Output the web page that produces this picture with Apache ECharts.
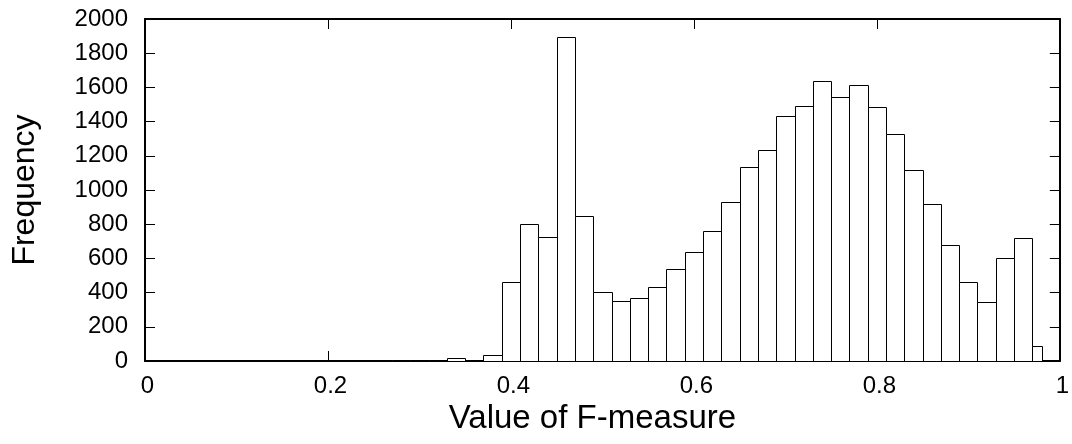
<!DOCTYPE html>
<html>
<head>
<meta charset="utf-8">
<script src="https://cdn.jsdelivr.net/npm/echarts@6/dist/echarts.min.js"></script>
<style>
html,body{margin:0;padding:0;background:#fff;}
#chart{width:1072px;height:444px;}
</style>
</head>
<body>
<div id="chart"></div>
<script>
// Histogram bins: centre and width (F-measure units)
const binCenters = [0.20,0.22,0.24,0.26,0.28,0.30,0.32,0.34,0.36,0.38,
                    0.40,0.42,0.44,0.46,0.48,0.50,0.52,0.54,0.56,0.58,
                    0.60,0.62,0.64,0.66,0.68,0.70,0.72,0.74,0.76,0.78,
                    0.80,0.82,0.84,0.86,0.88,0.90,0.92,0.94,0.96,0.975];
const binWidths  = [0.02,0.02,0.02,0.02,0.02,0.02,0.02,0.02,0.02,0.02,
                    0.02,0.02,0.02,0.02,0.02,0.02,0.02,0.02,0.02,0.02,
                    0.02,0.02,0.02,0.02,0.02,0.02,0.02,0.02,0.02,0.02,
                    0.02,0.02,0.02,0.02,0.02,0.02,0.02,0.02,0.02,0.01];
const frequencies = [1,1,2,2,4,2,3,15,8,33,
                     463,799,725,1896,849,405,349,366,434,537,
                     639,761,929,1136,1235,1432,1491,1639,1543,1613,
                     1484,1327,1115,917,676,460,346,600,721,90];
const xTicks = [0,0.2,0.4,0.6,0.8,1];
const yTicks = [0,200,400,600,800,1000,1200,1400,1600,1800,2000];
const xTitle = 'Value of F-measure';
const yTitle = 'Frequency';

const data = binCenters.map((c,i)=>[c - binWidths[i]/2, c + binWidths[i]/2, frequencies[i]]);

const FONT = 'Liberation Sans';
const chart = echarts.init(document.getElementById('chart'), null, {renderer:'canvas'});

const tickStyle = {show:true, inside:true, length:10, lineStyle:{color:'#000', width:1}};
const lineStyle = {show:true, onZero:false, lineStyle:{color:'#000', width:2}};
const fmtX = v=>{const t=xTicks.find(x=>Math.abs(x-v)<1e-9); return t===undefined?'':String(t);};
const fmtY = v=>{const t=yTicks.find(x=>Math.abs(x-v)<1e-9); return t===undefined?'':String(t);};

chart.setOption({
  animation:false,
  backgroundColor:'#fff',
  grid:{left:145, right:12, top:19, bottom:83, containLabel:false},
  xAxis:[{
    type:'value', min:xTicks[0], max:xTicks[xTicks.length-1], interval:0.2,
    position:'bottom',
    axisLine:lineStyle, axisTick:tickStyle, splitLine:{show:false},
    axisLabel:{show:true, color:'#000', fontFamily:FONT, fontSize:24, margin:13,
      padding:[0,0,0,5], formatter:fmtX},
    name:xTitle, nameLocation:'middle', nameGap:32,
    nameTextStyle:{color:'#000', fontFamily:FONT, fontSize:33, padding:[0,20,0,0]}
  },{
    type:'value', min:xTicks[0], max:xTicks[xTicks.length-1], interval:0.2,
    position:'top',
    axisLine:lineStyle, axisTick:tickStyle, axisLabel:{show:false}, splitLine:{show:false}
  }],
  yAxis:[{
    type:'value', min:yTicks[0], max:yTicks[yTicks.length-1], interval:200,
    position:'left',
    axisLine:lineStyle, axisTick:tickStyle, splitLine:{show:false},
    axisLabel:{show:true, color:'#000', fontFamily:FONT, fontSize:24, margin:17, formatter:fmtY},
    name:yTitle, nameLocation:'middle', nameGap:104, nameRotate:90,
    nameTextStyle:{color:'#000', fontFamily:FONT, fontSize:32}
  },{
    type:'value', min:yTicks[0], max:yTicks[yTicks.length-1], interval:200,
    position:'right',
    axisLine:lineStyle, axisTick:tickStyle, axisLabel:{show:false}, splitLine:{show:false}
  }],
  series:[{
    type:'custom',
    xAxisIndex:0, yAxisIndex:0,
    clip:true,
    encode:{x:[0,1], y:2},
    data:data,
    renderItem:function(params, api){
      const p0 = api.coord([api.value(0), api.value(2)]);
      const p1 = api.coord([api.value(1), 0]);
      const x0 = Math.round(p0[0]) + 0.5, x1 = Math.round(p1[0]) + 0.5;
      const y0 = Math.round(p0[1]) + 0.5, y1 = Math.round(p1[1]) + 0.5;
      return {
        type:'rect',
        shape:{x:x0, y:y0, width:x1-x0, height:y1-y0},
        style:{fill:'#fff', stroke:'#000', lineWidth:1}
      };
    }
  }]
});
</script>
</body>
</html>
